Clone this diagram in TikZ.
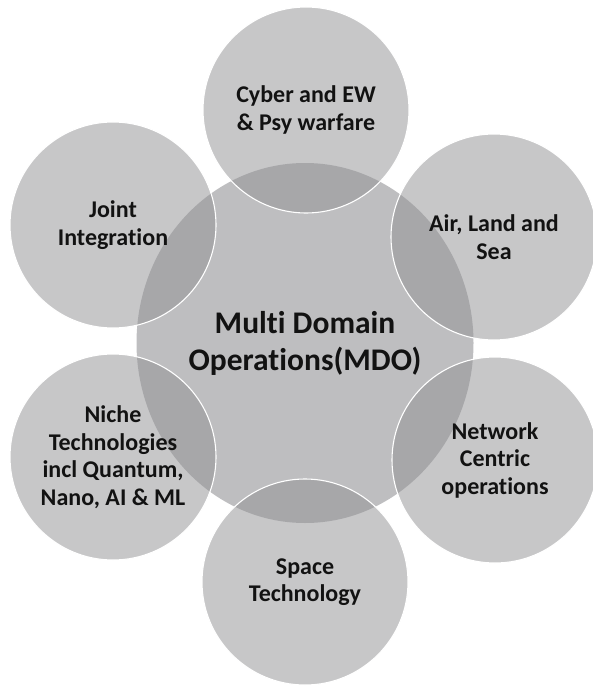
\documentclass[tikz,border=0pt]{standalone}
\usepackage{fontspec}
\setmainfont[Ligatures=NoCommon]{Carlito}
\usetikzlibrary{shapes.geometric}

\definecolor{corefill}{RGB}{190,190,192}
\definecolor{petalfill}{RGB}{145,145,147}
\definecolor{labelink}{RGB}{18,18,18}

\tikzset{
  core/.style={ellipse, fill=corefill, minimum width=337pt, minimum height=360pt,
    inner sep=0pt, align=center, text=labelink,
    font=\fontsize{31.5}{37}\selectfont\bfseries},
  petal/.style={circle, fill=petalfill, fill opacity=0.51, text opacity=1,
    draw=white, line width=1.1pt, minimum size=206pt, inner sep=0pt,
    align=center, text=labelink,
    font=\fontsize{24}{27.5}\selectfont\bfseries},
}

\begin{document}
\begin{tikzpicture}[x=1pt, y=-1pt]
  \useasboundingbox (0,0) rectangle (593,690);

  % central domain
  \node[core] (mdo) at (305,343) {Multi Domain\\Operations(MDO)};

  % surrounding domains
  \node[petal] (cyber)   at (306,110) {Cyber and EW\\\& Psy warfare};
  \node[petal] (joint)   at (113,225) {Joint\\Integration};
  \node[petal] (airland) at (494,237) {Air, Land and\\Sea};
  \node[petal] (niche)   at (113,457) {Niche\\Technologies\\incl Quantum,\\Nano, AI \& ML};
  \node[petal] (network) at (495,460) {Network\\Centric\\operations};
  \node[petal] (space)   at (305,582) {Space\\Technology};
\end{tikzpicture}
\end{document}
